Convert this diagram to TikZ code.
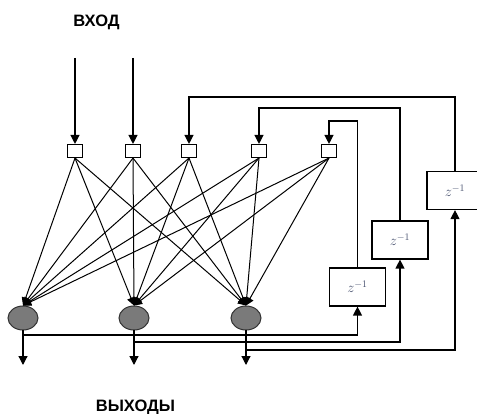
\documentclass[tikz,border=0pt]{standalone}
\usepackage{fontspec}
\newfontfamily\lab{Liberation Sans}
\usetikzlibrary{arrows.meta,shapes.geometric}
\begin{document}
\begin{tikzpicture}[x=1pt,y=-1pt,
  arr/.style={draw, line width=1.2pt, -{Triangle[length=9pt,width=9pt]}},
  thin arr/.style={draw, line width=1pt, -{Triangle[length=8pt,width=8pt]}},
  inbox/.style={draw, line width=1.1pt, minimum width=15pt, minimum height=13pt, inner sep=0pt},
  neuron/.style={ellipse, draw=black!80, line width=1pt, fill=black!52, minimum width=30pt, minimum height=24pt, inner sep=0pt},
  zbox/.style={draw, line width=1.2pt, minimum width=56pt, minimum height=38pt, inner sep=0pt, font=\fontsize{14}{14}\selectfont, text={rgb,255:red,70;green,80;blue,110}},
  lbl/.style={font=\lab\bfseries\fontsize{16.5}{16.5}\selectfont, anchor=base}]
\clip (0,0) rectangle (477,414);
\useasboundingbox (0,0) rectangle (477,414);
\fill[white] (0,0) rectangle (477,414);

% labels
\node[lbl] (vhod) at (96.5,27) {ВХОД};
\node[lbl] (vyhody) at (135.5,411) {ВЫХОДЫ};

% input squares
\node[inbox] (s1) at (75,151) {};
\node[inbox] (s2) at (133,151) {};
\node[inbox] (s3) at (189,151) {};
\node[inbox] (s4) at (259,151) {};
\node[inbox] (s5) at (329,151) {};

% neurons
\node[neuron] (n1) at (23,318) {};
\node[neuron] (n2) at (134,318) {};
\node[neuron] (n3) at (246,318) {};

% delay boxes
\node[zbox] (z1) at (357.5,287) {$z^{-1}$};
\node[zbox] (z2) at (400,240) {$z^{-1}$};
\node[zbox] (z3) at (455,190.5) {$z^{-1}$};

% input arrows
\coordinate (i1) at (75,58);
\coordinate (i2) at (133,58);
\draw[arr] (i1) -- (s1.north);
\draw[arr] (i2) -- (s2.north);

% full connections
\foreach \s in {s1,s2,s3,s4,s5}{
  \foreach \n in {n1,n2,n3}{
    \draw[thin arr] (\s.south) -- (\n.north);
  }
}

% outputs
\coordinate (o1) at (23,365);
\coordinate (o2) at (134,365);
\coordinate (o3) at (246,365);
\draw[arr] (n1.south) -- (o1);
\draw[arr] (n2.south) -- (o2);
\draw[arr] (n3.south) -- (o3);

% feedback from outputs to delays
\coordinate (b1) at (23,335);
\coordinate (b2) at (134,342);
\coordinate (b3) at (246,350);
\draw[arr] (b1) -| (z1.south);
\draw[arr] (b2) -| (z2.south);
\draw[arr] (b3) -| (z3.south);

% feedback from delays to context inputs
\coordinate (t1) at (0,121);
\coordinate (t2) at (0,108);
\coordinate (t3) at (0,97);
\draw[arr] (z1.north) |- (t1 -| s5.north) -- (s5.north);
\draw[arr] (z2.north) |- (t2 -| s4.north) -- (s4.north);
\draw[arr] (z3.north) |- (t3 -| s3.north) -- (s3.north);
\end{tikzpicture}
\end{document}
